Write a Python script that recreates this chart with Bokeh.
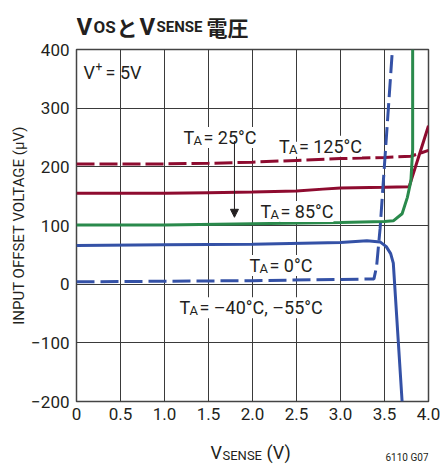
from bokeh.plotting import figure
from bokeh.layouts import column
from bokeh.models import Label, Arrow, NormalHead, FixedTicker, Range1d
from bokeh.embed import file_html
from bokeh.resources import INLINE

# ---------------- data ----------------
x_ticks = [0, 0.5, 1.0, 1.5, 2.0, 2.5, 3.0, 3.5, 4.0]
x_tick_labels = ["0", "0.5", "1.0", "1.5", "2.0", "2.5", "3.0", "3.5", "4.0"]
y_ticks = [-200, -100, 0, 100, 200, 300, 400]
y_tick_labels = ["\u2212200", "\u2212100", "0", "100", "200", "300", "400"]

# T_A = 125 C (dashed)
x_125 = [0, 0.5, 1.0, 1.5, 2.0, 2.5, 3.0, 3.5, 3.8, 4.0]
y_125 = [205, 205, 205, 206, 208, 211, 214, 216, 218, 228]
# T_A = 85 C
x_85 = [0, 0.5, 1.0, 1.5, 2.0, 2.5, 2.8, 3.0, 3.5, 3.78, 4.0]
y_85 = [155, 155, 155, 156, 157, 159, 162, 164, 165, 166, 270]
# T_A = 25 C
x_25 = [0, 1.0, 2.0, 3.0, 3.5, 3.6, 3.7, 3.76, 3.8, 3.82, 3.82]
y_25 = [101, 101, 103, 105, 107, 108, 120, 148, 176, 230, 400]
# T_A = 0 C
x_0 = [0, 1.0, 2.0, 3.0, 3.3, 3.45, 3.52, 3.57, 3.6, 3.70]
y_0 = [66, 67, 68, 71, 74, 72, 64, 52, 36, -200]
# T_A = -40 C, -55 C (dashed)
x_m40 = [0, 1.0, 2.0, 3.0, 3.38, 3.41, 3.45, 3.59]
y_m40 = [4, 5, 6, 8, 9, 30, 95, 400]

RED = "#8e0b2f"
GREEN = "#2a8a4c"
BLUE = "#3451a6"
TXT = "#231f20"
FONT = "Roboto"
CJK = "Noto Sans CJK JP"
W = 440
FL, FR = 76, 428   # frame left / right in page pixels


def txt(fig, x, y, text, size, dx=0, dy=0, font=FONT, style="normal",
        bg=None, align="left"):
    fig.add_layout(Label(x=x, y=y, text=text, x_offset=dx, y_offset=dy,
                         text_font=font, text_font_size=f"{size}px",
                         text_font_style=style, text_color=TXT,
                         text_align=align, text_baseline="alphabetic",
                         background_fill_color=bg))


def blank(h):
    f = figure(width=W, height=h, output_backend="svg", toolbar_location=None,
               title_location=None,
               x_range=Range1d(FL, FR), y_range=Range1d(0, h),
               min_border_left=FL, min_border_right=W - FR,
               min_border_top=0, min_border_bottom=0,
               x_axis_type=None, y_axis_type=None)
    f.outline_line_color = None
    f.grid.visible = False
    f.background_fill_color = "white"
    f.border_fill_color = "white"
    return f


# ---------------- title strip ----------------
TH = 40
t = blank(TH)
TY = TH - 26
txt(t, 76, TY, "V", 24, style="bold")
txt(t, 93, TY, "OS", 17, style="bold")
txt(t, 116, TY, "\u3068", 21, font=CJK, style="bold")
txt(t, 139, TY, "V", 24, style="bold")
txt(t, 156, TY, "SENSE", 15, style="bold")
txt(t, 206, TY, "\u96fb\u5727", 21, font=CJK, style="bold")

# ---------------- main chart ----------------
p = figure(width=W, height=390, output_backend="svg", toolbar_location=None,
           x_range=Range1d(0, 4), y_range=Range1d(-200, 400),
           min_border_left=FL, min_border_right=W - FR, min_border_top=9,
           min_border_bottom=29)
p.background_fill_color = "white"
p.border_fill_color = "white"
p.outline_line_color = "#444444"
p.outline_line_width = 1.5

p.xaxis.ticker = FixedTicker(ticks=x_ticks)
p.yaxis.ticker = FixedTicker(ticks=y_ticks)
p.xaxis.major_label_overrides = dict(zip(x_ticks, x_tick_labels))
p.yaxis.major_label_overrides = dict(zip(y_ticks, y_tick_labels))
for ax in (p.xaxis, p.yaxis):
    ax.axis_line_color = None
    ax.major_tick_line_color = None
    ax.minor_tick_line_color = None
    ax.major_tick_out = 0
    ax.major_tick_in = 0
    ax.major_label_text_font = FONT
    ax.major_label_text_font_size = "17px"
    ax.major_label_text_color = TXT
p.xaxis.major_label_standoff = 6
p.yaxis.major_label_standoff = 7
p.yaxis.axis_label = "INPUT OFFSET VOLTAGE (\u03bcV)"
p.yaxis.axis_label_text_font = FONT
p.yaxis.axis_label_text_font_size = "15px"
p.yaxis.axis_label_text_font_style = "normal"
p.yaxis.axis_label_text_color = TXT
p.yaxis.axis_label_standoff = 0

p.xgrid.ticker = FixedTicker(ticks=x_ticks)
p.ygrid.ticker = FixedTicker(ticks=y_ticks)
p.grid.grid_line_color = "#3a3a3a"
p.grid.grid_line_width = 1

p.line(x_125, y_125, line_color=RED, line_width=3, line_dash="18 5")
p.line(x_85, y_85, line_color=RED, line_width=3)
p.line(x_25, y_25, line_color=GREEN, line_width=3)
p.line(x_0, y_0, line_color=BLUE, line_width=3)
p.line(x_m40, y_m40, line_color=BLUE, line_width=3, line_dash="18 6")


def ta_label(x, y, rest):
    txt(p, x, y, "T", 18, bg="white")
    txt(p, x, y, "A", 13, dx=10, dy=-3, bg="white")
    txt(p, x, y, rest, 18, dx=20, bg="white")


txt(p, 0.08, 361, "V", 18)
txt(p, 0.08, 361, "+", 12, dx=12, dy=6)
txt(p, 0.08, 361, "= 5V", 18, dx=22)
ta_label(1.216, 250, "= 25\u00b0C")
ta_label(2.30, 235, "= 125\u00b0C")
ta_label(2.09, 124, "= 85\u00b0C")
ta_label(1.966, 32, "= 0\u00b0C")
ta_label(1.17, -40, "= \u201340\u00b0C, \u201355\u00b0C")

p.add_layout(Arrow(end=NormalHead(size=8, fill_color=TXT, line_color=TXT),
                   x_start=1.795, y_start=244, x_end=1.795, y_end=114,
                   line_color=TXT, line_width=1))

# ---------------- bottom strip ----------------
BH = 42
b = blank(BH)
txt(b, 210, BH - 22, "V", 18)
txt(b, 222, BH - 25, "SENSE", 13)
txt(b, 266, BH - 22, "(V)", 18)
txt(b, 428, BH - 27, "6110 G07", 10, align="right")

layout = column(t, p, b, spacing=0)
open("out.html", "w").write(file_html(layout, INLINE))
